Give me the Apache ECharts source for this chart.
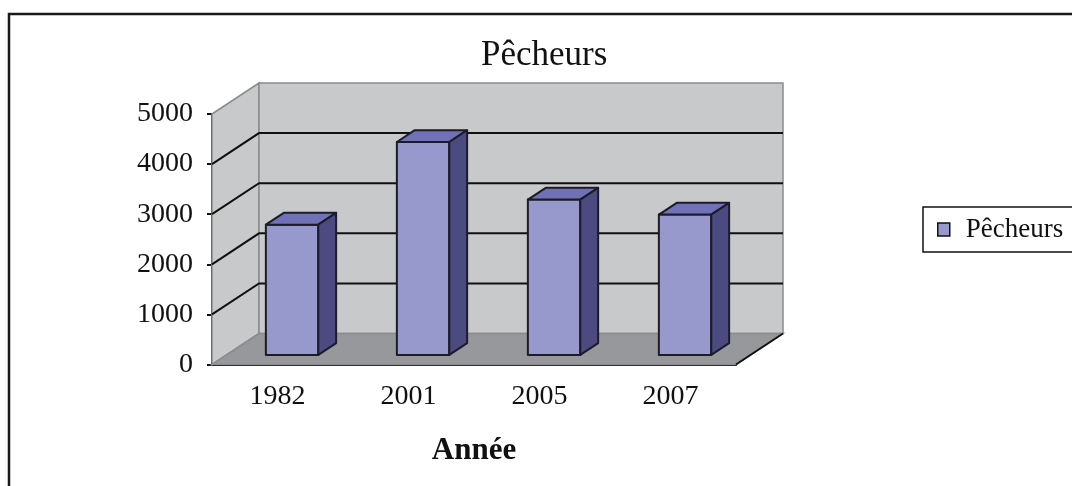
<!DOCTYPE html>
<html>
<head>
    <meta charset="utf-8">
    <title>Pêcheurs</title>
    <script src="https://cdn.jsdelivr.net/npm/echarts@6/dist/echarts.min.js"></script>
</head>
<body style="margin:0">
    <div id="main" style="width: 1072px;height:486px;"></div>
    <script type="text/javascript">
        var myChart = echarts.init(document.getElementById('main'));

        var years = ['1982', '2001', '2005', '2007'];
        var pecheurs = [2600, 4250, 3100, 2800];
        var yTicks = [0, 1000, 2000, 3000, 4000, 5000];

        // profondeur du mur du fond (effet 3D façon Excel)
        var DX = 47, DY = -31;
        var SERIF = '"Liberation Serif", "Times New Roman", serif';

        function renderWalls(params, api) {
            var band = api.size([1, 0])[0];
            var x0 = api.coord([0, 0])[0] - band / 2;
            var x1 = x0 + band * years.length;
            var y0 = api.coord([0, 0])[1];
            var yTop = api.coord([0, yTicks[yTicks.length - 1]])[1];
            var wallStyle = { fill: '#c8c9cb', stroke: '#8c8c8c', lineWidth: 1.5 };
            var children = [
                { type: 'polygon', shape: { points: [[x0, yTop], [x0 + DX, yTop + DY], [x0 + DX, y0 + DY], [x0, y0]] }, style: wallStyle },
                { type: 'rect', shape: { x: x0 + DX, y: yTop + DY, width: x1 - x0, height: y0 - yTop }, style: wallStyle },
                { type: 'polygon', shape: { points: [[x0, y0], [x1, y0], [x1 + DX, y0 + DY], [x0 + DX, y0 + DY]] },
                  style: { fill: '#97989b', stroke: '#8c8c8c', lineWidth: 1.5 } },
                { type: 'line', shape: { x1: x1, y1: y0, x2: x1 + DX, y2: y0 + DY }, style: { stroke: '#111', lineWidth: 2 } }
            ];
            yTicks.slice(1, -1).forEach(function (t) {
                var y = api.coord([0, t])[1];
                children.push({
                    type: 'polyline',
                    shape: { points: [[x0, y], [x0 + DX, y + DY], [x1 + DX, y + DY]] },
                    style: { stroke: '#111', lineWidth: 2, fill: null }
                });
            });
            return { type: 'group', children: children };
        }

        function renderBar(params, api) {
            var i = api.value(0), v = api.value(1);
            var band = api.size([1, 0])[0];
            var w = band * 0.4;
            var base = api.coord([i, 0]);
            var top = api.coord([i, v]);
            var fx = DX * 0.31, fy = DY * 0.31;
            var ddx = DX * 0.38, ddy = DY * 0.38;
            var l = base[0] - w / 2 + fx, r = l + w;
            var yb = base[1] + fy, yt = top[1] + fy;
            var edge = { stroke: '#1c1c28', lineWidth: 2, lineJoin: 'round' };
            return {
                type: 'group',
                children: [
                    { type: 'rect', shape: { x: l, y: yt, width: w, height: yb - yt },
                      style: Object.assign({ fill: '#9798cb' }, edge) },
                    { type: 'polygon', shape: { points: [[l, yt], [r, yt], [r + ddx, yt + ddy], [l + ddx, yt + ddy]] },
                      style: Object.assign({ fill: '#7071b7' }, edge) },
                    { type: 'polygon', shape: { points: [[r, yt], [r + ddx, yt + ddy], [r + ddx, yb + ddy], [r, yb]] },
                      style: Object.assign({ fill: '#4b4b82' }, edge) }
                ]
            };
        }

        var option = {
            backgroundColor: '#fff',
            animation: false,
            title: {
                text: 'Pêcheurs',
                left: 481,
                top: 38,
                padding: 0,
                textStyle: { fontFamily: SERIF, fontSize: 35, fontWeight: 'normal', color: '#111' }
            },
            legend: {
                data: ['Pêcheurs'],
                left: 923,
                top: 207,
                padding: [9, 16, 9, 14],
                borderColor: '#111',
                borderWidth: 1.5,
                icon: 'rect',
                itemWidth: 12,
                itemHeight: 13,
                itemStyle: { color: '#9798cb', borderColor: '#111', borderWidth: 1.5 },
                textStyle: { fontFamily: SERIF, fontSize: 27, color: '#111', padding: [0, 0, 0, 11] }
            },
            graphic: [{
                type: 'rect',
                z: -10,
                shape: { x: 9, y: 14, width: 1200, height: 600 },
                style: { fill: 'none', stroke: '#1a1a1a', lineWidth: 2.5 }
            }],
            grid: { left: 212, right: 336, top: 114, bottom: 121.5 },
            xAxis: {
                type: 'category',
                data: years,
                axisLine: { lineStyle: { color: '#111', width: 2 } },
                axisTick: { length: 6, lineStyle: { color: '#111', width: 2 } },
                axisLabel: { fontFamily: SERIF, fontSize: 28, color: '#111', margin: 18 },
                name: 'Année',
                nameLocation: 'middle',
                nameGap: 71,
                nameTextStyle: { fontFamily: SERIF, fontSize: 31, fontWeight: 'bold', color: '#111' }
            },
            yAxis: {
                type: 'value',
                min: 0,
                max: 5000,
                interval: 1000,
                axisLine: { show: true, lineStyle: { color: '#111', width: 2 } },
                axisTick: { show: true, length: 5, lineStyle: { color: '#111', width: 2 } },
                axisLabel: { fontFamily: SERIF, fontSize: 28, color: '#111', margin: 19,
                             formatter: function (v) { return String(v); } },
                splitLine: { show: false }
            },
            series: [{
                name: 'murs',
                type: 'custom',
                renderItem: renderWalls,
                data: [[0, 0]],
                z: 1,
                silent: true
            }, {
                name: 'Pêcheurs',
                type: 'custom',
                renderItem: renderBar,
                itemStyle: { color: '#9798cb' },
                encode: { x: 0, y: 1 },
                data: years.map(function (y, i) { return [i, pecheurs[i]]; }),
                z: 2
            }]
        };

        myChart.setOption(option);
    </script>
</body>
</html>
